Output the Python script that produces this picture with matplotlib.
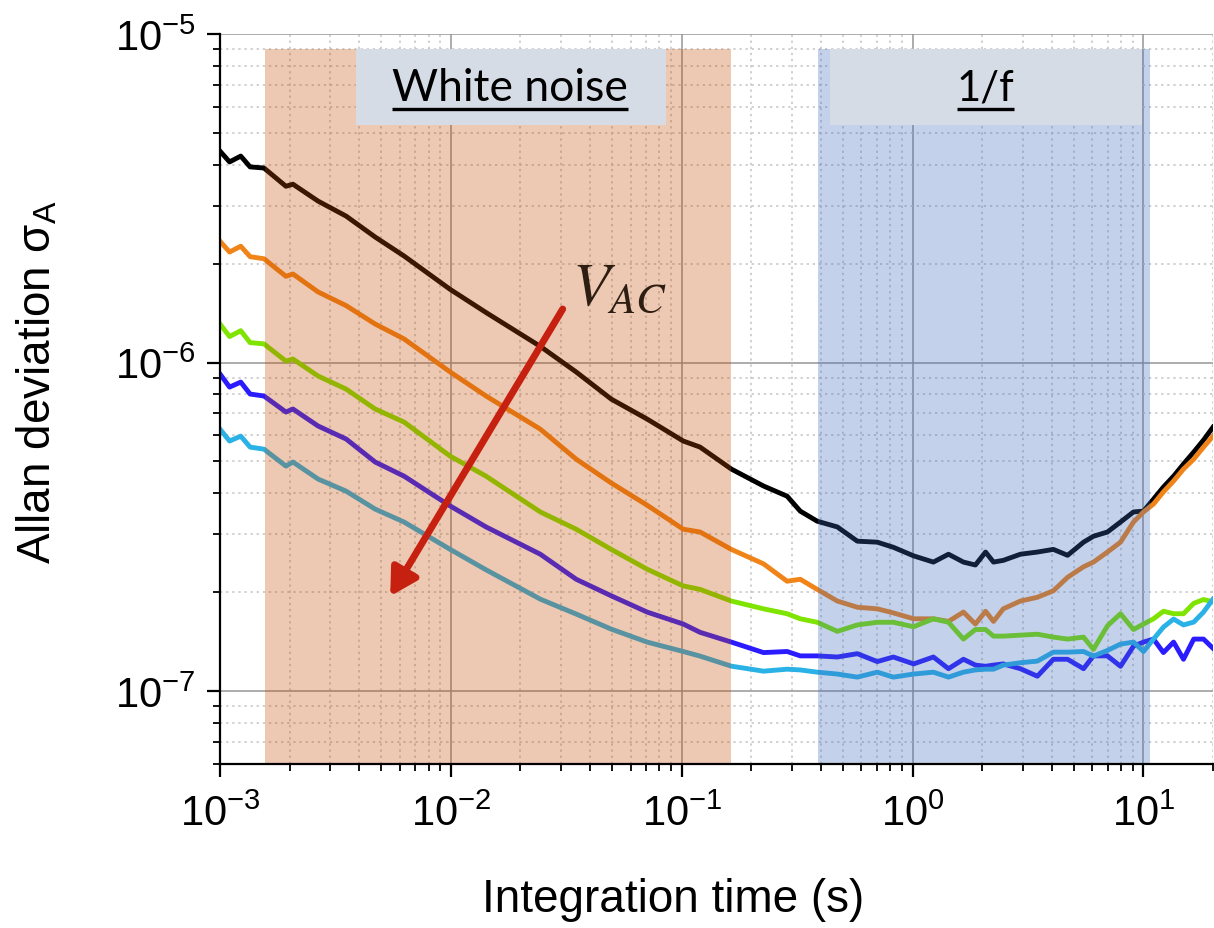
import numpy as np
import matplotlib
matplotlib.use('Agg')
from matplotlib import pyplot as plt
from matplotlib.patches import Rectangle
from matplotlib.lines import Line2D
import matplotlib.ticker as mticker

plt.rcParams['font.family'] = ['Liberation Sans', 'DejaVu Sans']
plt.rcParams['mathtext.fontset'] = 'stix'

# integration time (s)
tau = [0.00100, 0.00110, 0.00123, 0.00135, 0.00155, 0.00193, 0.00207, 0.00266,
       0.00352, 0.00470, 0.00627, 0.00993, 0.0142, 0.0244, 0.0349, 0.0495,
       0.0708, 0.1015, 0.120, 0.164, 0.226, 0.286, 0.326, 0.386, 0.472, 0.576,
       0.703, 0.825, 1.01, 1.23, 1.43, 1.66, 1.87, 2.07, 2.24, 2.47, 2.93, 3.47,
       4.07, 4.69, 5.50, 6.07, 6.98, 7.95, 9.05, 10.0, 11.05, 12.2, 13.5, 14.9,
       16.5, 18.2, 20.0]

# Allan deviation, in units of 1e-7
black = [44.0, 40.8, 42.5, 39.4, 39.1, 34.4, 34.9, 31.0, 27.9, 24.1,
         21.1, 16.7, 14.2, 11.2, 9.36, 7.74, 6.73, 5.77, 5.53, 4.74,
         4.21, 3.92, 3.53, 3.29, 3.16, 2.86, 2.84, 2.74, 2.58, 2.47,
         2.61, 2.47, 2.42, 2.65, 2.47, 2.50, 2.61, 2.65, 2.70, 2.59,
         2.84, 2.96, 3.05, 3.27, 3.51, 3.53, 3.84, 4.18, 4.51, 4.91,
         5.34, 5.81, 6.36]
orange = [23.4, 21.7, 22.6, 21.0, 20.7, 18.3, 18.6, 16.4, 14.9, 13.1,
          11.8, 9.36, 7.91, 6.27, 5.08, 4.30, 3.68, 3.11, 3.05, 2.70,
          2.44, 2.16, 2.19, 2.04, 1.88, 1.80, 1.78, 1.73, 1.66, 1.66,
          1.63, 1.74, 1.60, 1.75, 1.63, 1.78, 1.88, 1.93, 2.02, 2.22,
          2.39, 2.47, 2.65, 2.84, 3.27, 3.51, 3.71, 4.04, 4.36, 4.74,
          5.08, 5.53, 5.97]
green = [13.1, 12.0, 12.5, 11.5, 11.4, 10.1, 10.25, 9.1, 8.30, 7.22,
         6.59, 5.19, 4.51, 3.51, 3.11, 2.70, 2.35, 2.09, 2.04, 1.88,
         1.78, 1.72, 1.66, 1.62, 1.52, 1.59, 1.62, 1.62, 1.57, 1.66,
         1.62, 1.44, 1.54, 1.54, 1.47, 1.47, 1.48, 1.49, 1.46, 1.44,
         1.46, 1.34, 1.58, 1.72, 1.54, 1.60, 1.66, 1.75, 1.72, 1.72,
         1.85, 1.90, 1.87]
blue = [9.23, 8.42, 8.72, 8.02, 7.91, 7.07, 7.22, 6.41, 5.85, 4.98,
        4.51, 3.66, 3.16, 2.61, 2.19, 1.95, 1.74, 1.60, 1.51, 1.41,
        1.31, 1.32, 1.28, 1.28, 1.27, 1.30, 1.23, 1.27, 1.21, 1.27,
        1.17, 1.25, 1.20, 1.19, 1.20, 1.21, 1.17, 1.11, 1.25, 1.25,
        1.17, 1.28, 1.28, 1.19, 1.37, 1.41, 1.44, 1.31, 1.41, 1.25,
        1.44, 1.44, 1.35]
cyan = [6.27, 5.77, 5.97, 5.53, 5.45, 4.84, 4.98, 4.42, 4.06, 3.58,
        3.27, 2.70, 2.34, 1.905, 1.716, 1.544, 1.41, 1.32, 1.278, 1.191,
        1.15, 1.166, 1.16, 1.142, 1.127, 1.103, 1.142, 1.103, 1.127, 1.142,
        1.103, 1.142, 1.16, 1.166, 1.166, 1.20, 1.22, 1.234, 1.314, 1.314,
        1.32, 1.278, 1.33, 1.39, 1.41, 1.32, 1.44, 1.566, 1.657, 1.59,
        1.622, 1.74, 1.905]

curves = [black, orange, green, blue, cyan]
colors = ['#000000', '#f08418', '#7ee400', '#2a1cff', '#2ab2e6']

# shaded noise regimes (tau limits) and their label boxes
white_span = [1.57e-3, 0.164]
flicker_span = [0.39, 10.7]
span_top = 9.0e-6
white_box = [3.88e-3, 0.0857]
flicker_box = [0.44, 9.9]
box_y = [5.28e-6, 9.0e-6]
label_base = 6.3e-6
underline_y = 5.93e-6

# V_AC arrow
arrow_start = (0.0305, 1.455e-6)
arrow_end = (5.46e-3, 1.945e-7)

xlim = (1e-3, 20)
ylim = (6.0e-8, 1e-5)

W, H = 1214, 929
fig = plt.figure(figsize=(W/100, H/100), dpi=100)
ax = fig.add_axes([220/W, 1-765/H, 993/W, 730/H])
ax.set_xscale('log')
ax.set_yscale('log')
ax.set_xlim(*xlim)
ax.set_ylim(*ylim)

for vals, c in zip(curves, colors):
    ax.plot(tau, np.array(vals)*1e-7, color=c, lw=3.5, zorder=2,
            solid_joinstyle='round')

# semi transparent overlays, drawn over the curves
ax.add_patch(Rectangle((white_span[0], ylim[0]), white_span[1]-white_span[0],
                       span_top-ylim[0], facecolor=(198/255, 75/255, 0),
                       alpha=0.3, lw=0, zorder=2.2))
ax.add_patch(Rectangle((flicker_span[0], ylim[0]), flicker_span[1]-flicker_span[0],
                       span_top-ylim[0], facecolor=(62/255, 105/255, 188/255),
                       alpha=0.3, lw=0, zorder=2.2))

# label boxes
for (x0, x1) in [white_box, flicker_box]:
    ax.add_patch(Rectangle((x0, box_y[0]), x1-x0, box_y[1]-box_y[0],
                           facecolor='#d6dce5', lw=0, zorder=4))
t1 = ax.text(0.01806, label_base, 'White noise', family='Lato', fontsize=32,
             ha='center', va='baseline', zorder=5)
t2 = ax.text(2.07, label_base, '1/f', family='Lato', fontsize=30,
             ha='center', va='baseline', zorder=5)

# arrow and V_AC
ax.annotate('', xy=arrow_end, xytext=arrow_start,
            arrowprops=dict(arrowstyle='-|>,head_length=0.8,head_width=0.45',
                            color='#c62010', lw=5.0, mutation_scale=20,
                            shrinkA=0, shrinkB=0), zorder=5)
ax.text(0.0335, 1.507e-6, r'$V_{AC}$', fontsize=44, color='#2e1e12',
        ha='left', va='baseline', zorder=5)

# axes styling
for s in ['top', 'right']:
    ax.spines[s].set_visible(False)
for s in ['left', 'bottom']:
    ax.spines[s].set_linewidth(1.6)
ax.xaxis.set_major_locator(mticker.LogLocator(base=10, numticks=20))
ax.xaxis.set_minor_locator(mticker.LogLocator(base=10, subs=np.arange(2, 10), numticks=20))
ax.yaxis.set_major_locator(mticker.LogLocator(base=10, numticks=20))
ax.yaxis.set_minor_locator(mticker.LogLocator(base=10, subs=np.arange(2, 10), numticks=20))
ax.xaxis.set_minor_formatter(mticker.NullFormatter())
ax.yaxis.set_minor_formatter(mticker.NullFormatter())
ax.tick_params(which='major', direction='out', length=9.5, width=1.6,
               labelsize=30)
ax.tick_params(which='minor', direction='out', length=5, width=1.3)
ax.tick_params(axis='x', which='major', pad=12)
ax.tick_params(axis='y', which='major', pad=8)

ax.set_axisbelow(True)
ax.grid(which='major', color='#969696', lw=1.1, ls='-')
ax.grid(which='minor', color='#c4c4c4', lw=1.1, ls=(0, (1.5, 2.5)))
for tk in ax.yaxis.get_major_ticks():
    if np.isclose(tk.get_loc(), 1e-6):
        tk.gridline.set_linewidth(2.4)
        tk.gridline.set_color('#b4b4b4')
    if np.isclose(tk.get_loc(), 1e-5):
        tk.gridline.set_visible(False)

fig.text(673/W, 1-900/H, 'Integration time (s)', fontsize=33,
         ha='center', va='center')
fig.text(38/W, 1-382/H, r'Allan deviation σ$_\mathdefault{A}$', fontsize=33,
         rotation=90, ha='center', va='center')

# underline the two box labels
fig.canvas.draw()
r = fig.canvas.get_renderer()
inv = ax.transData.inverted()
for t in [t1, t2]:
    bb = t.get_window_extent(r)
    xa = inv.transform((bb.x0, 0))[0]
    xb = inv.transform((bb.x1, 0))[0]
    ax.add_line(Line2D([xa, xb], [underline_y, underline_y], color='black',
                       lw=2.4, zorder=5, solid_capstyle='butt'))

fig.savefig('out.png', dpi=100)
